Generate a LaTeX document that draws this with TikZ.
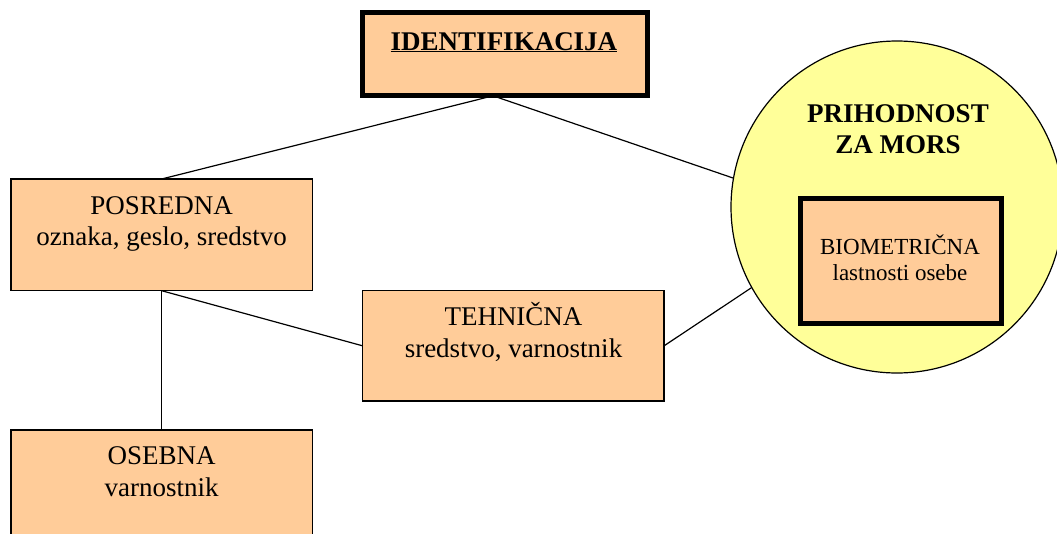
\documentclass[tikz,border=0pt]{standalone}
\usepackage{fontspec}
\setmainfont{Liberation Serif}
\usetikzlibrary{calc}
\definecolor{peach}{HTML}{FFCC99}
\definecolor{paleyellow}{HTML}{FFFF99}
\begin{document}
\begin{tikzpicture}[x=1pt,y=-1pt,
  box/.style={draw, fill=peach, line width=1.2pt, inner sep=0pt, outer sep=0pt, anchor=north west},
  thickbox/.style={box, line width=5pt},
  lbl/.style={align=center, inner sep=0pt, anchor=north, font=\fontsize{27}{31.5}\selectfont},
  blbl/.style={lbl, font=\fontsize{27}{31}\selectfont\bfseries},
  slbl/.style={lbl, font=\fontsize{23}{26}\selectfont},
  conn/.style={line width=1.2pt}]
\useasboundingbox (0,0) rectangle (1057,533);
\clip (0,0) rectangle (1057,533);
% boxes
\node[thickbox, minimum width=285pt, minimum height=83.3pt] (id) at (362.5,12.5) {};
\node[box, minimum width=301.3pt, minimum height=111.7pt] (pos) at (11,179) {};
\node[box, minimum width=301.3pt, minimum height=110.3pt] (teh) at (362.7,290.7) {};
\node[box, minimum width=301.3pt, minimum height=130pt] (ose) at (11,430) {};
\node[draw, fill=paleyellow, circle, line width=1.2pt, inner sep=0pt, outer sep=0pt, minimum size=332pt] (circ) at (897,207) {};
\node[thickbox, minimum width=200.4pt, minimum height=124.5pt] (bio) at (800.8,198.5) {};
% texts
\node[inner sep=0pt, anchor=base, font=\fontsize{27}{31}\selectfont\bfseries] (tid) at (504,50) {\underline{IDENTIFIKACIJA}};
\node[lbl] (tpos) at (161.7,189) {\rule{0pt}{25pt}POSREDNA\\oznaka, geslo, sredstvo};
\node[lbl] (tteh) at (513.5,300.7) {\rule{0pt}{25pt}TEHNIČNA\\sredstvo, varnostnik};
\node[lbl] (tose) at (161.7,439.3) {\rule{0pt}{25pt}OSEBNA\\varnostnik};
\node[blbl] (tpri) at (898,97.3) {\rule{0pt}{25pt}PRIHODNOST\\ZA MORS};
\node[slbl] (tbio) at (900,232.3) {\rule{0pt}{22pt}BIOMETRIČNA\\lastnosti osebe};
% connectors
\coordinate (idb) at ($(id.south)+(-12,0)$);
\draw[conn] (idb) -- (pos.north);
\draw[conn] (idb) -- (circ.170.5);
\draw[conn] (pos.south) -- (teh.west);
\draw[conn] (pos.south) -- (ose.north);
\draw[conn] (teh.east) -- (circ.209);
\end{tikzpicture}
\end{document}
